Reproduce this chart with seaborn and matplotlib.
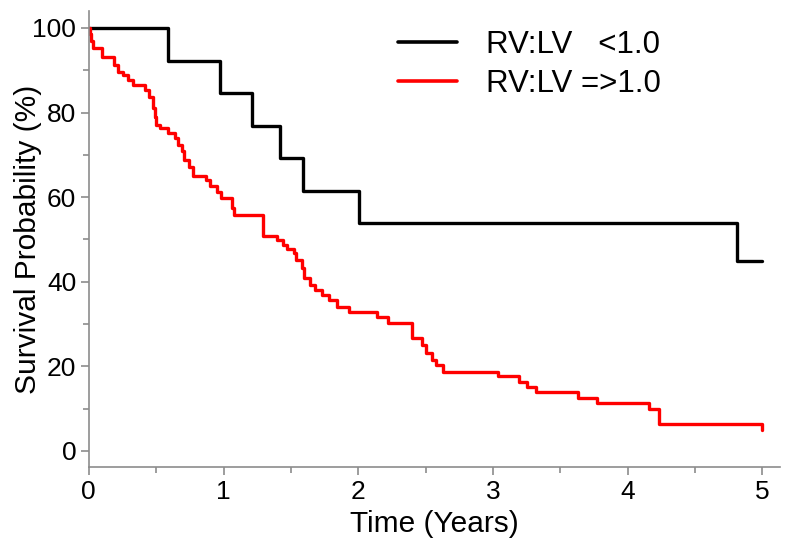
import matplotlib
matplotlib.use("Agg")
import matplotlib.pyplot as plt
import seaborn as sns
import pandas as pd
from matplotlib.ticker import MultipleLocator

# Kaplan-Meier step data (time in years, survival % after that time)
low_time = [0.0, 0.587, 0.973, 1.21, 1.42, 1.59, 2.006, 4.81, 5.0]
low_surv = [100, 92.3, 84.6, 76.9, 69.2, 61.5, 53.8, 44.9, 44.9]

high_time = [0.0, 0.01, 0.02, 0.03, 0.095, 0.19, 0.22, 0.255, 0.29, 0.33,
             0.42, 0.45, 0.48, 0.49, 0.50, 0.53, 0.59, 0.64, 0.66, 0.69,
             0.71, 0.74, 0.77, 0.87, 0.90, 0.95, 0.98, 1.06, 1.08, 1.29,
             1.40, 1.44, 1.47, 1.52, 1.54, 1.58, 1.60, 1.64, 1.68, 1.73,
             1.78, 1.84, 1.93, 2.14, 2.22, 2.40, 2.47, 2.50, 2.55, 2.58,
             2.63, 3.04, 3.19, 3.25, 3.32, 3.63, 3.77, 4.16, 4.23, 5.0]
high_surv = [100, 98.5, 97.0, 95.2, 93.2, 91.3, 89.7, 88.9, 87.7, 86.5,
             85.3, 83.6, 81.0, 79.0, 77.0, 76.3, 75.1, 73.9, 72.3, 70.8,
             68.8, 67.2, 65.0, 64.0, 62.6, 61.2, 59.7, 57.4, 55.8, 50.8,
             49.9, 48.7, 47.8, 46.8, 45.2, 43.2, 40.8, 39.2, 38.1, 36.9,
             35.7, 34.1, 32.8, 31.7, 30.3, 26.6, 25.1, 23.1, 21.5, 20.3,
             18.7, 17.6, 16.4, 15.1, 13.9, 12.6, 11.3, 10.0, 6.3, 5.0]

labels = ["RV:LV   <1.0", "RV:LV =>1.0"]
colors = ["#000000", "#ff0000"]

df = pd.concat([
    pd.DataFrame({"time": low_time, "surv": low_surv, "group": labels[0]}),
    pd.DataFrame({"time": high_time, "surv": high_surv, "group": labels[1]}),
])

sns.set_style("white")
plt.rcParams["font.family"] = ["Liberation Sans", "DejaVu Sans"]
plt.rcParams["text.color"] = "black"
plt.rcParams["axes.labelcolor"] = "black"

fig = plt.figure(figsize=(8, 5.53), dpi=100)
ax = fig.add_axes([0.111, 0.1555, 0.864, 0.8245])

for lab, col in zip(labels, colors):
    sub = df[df["group"] == lab]
    sns.lineplot(data=sub, x="time", y="surv", ax=ax, color=col,
                 drawstyle="steps-post", estimator=None, sort=False,
                 linewidth=2.4, label=lab)

ax.set_xlim(0, 5.13)
ax.set_ylim(-3.8, 104.0)
ax.xaxis.set_major_locator(MultipleLocator(1))
ax.xaxis.set_minor_locator(MultipleLocator(0.5))
ax.yaxis.set_major_locator(MultipleLocator(20))
ax.yaxis.set_minor_locator(MultipleLocator(10))
ax.set_yticks([0, 20, 40, 60, 80, 100])

for s in ["top", "right"]:
    ax.spines[s].set_visible(False)
for s in ["left", "bottom"]:
    ax.spines[s].set_color("#8c8c8c")
    ax.spines[s].set_linewidth(1.2)

ax.tick_params(axis="both", which="major", direction="out", length=6,
               width=1.2, color="#8c8c8c", labelsize=19, labelcolor="black",
               left=True, bottom=True, pad=3)
ax.tick_params(axis="both", which="minor", direction="out", length=4,
               width=1.2, color="#8c8c8c", left=True, bottom=True)

ax.set_xlabel("Time (Years)", fontsize=21.5, labelpad=5, color="black")
ax.set_ylabel("Survival Probability (%)", fontsize=21.5, color="black")
ax.yaxis.set_label_coords(-0.068, 0.5)

leg = ax.legend(loc="upper left", bbox_to_anchor=(0.4975, 0.945),
                bbox_transform=fig.transFigure, frameon=False, fontsize=22.5,
                handlelength=1.9, handletextpad=0.93, labelspacing=0.28,
                borderpad=0, borderaxespad=0)
for line in leg.get_lines():
    line.set_linewidth(2.6)
for t in leg.get_texts():
    t.set_color("black")

fig.savefig("out.png", dpi=100)
